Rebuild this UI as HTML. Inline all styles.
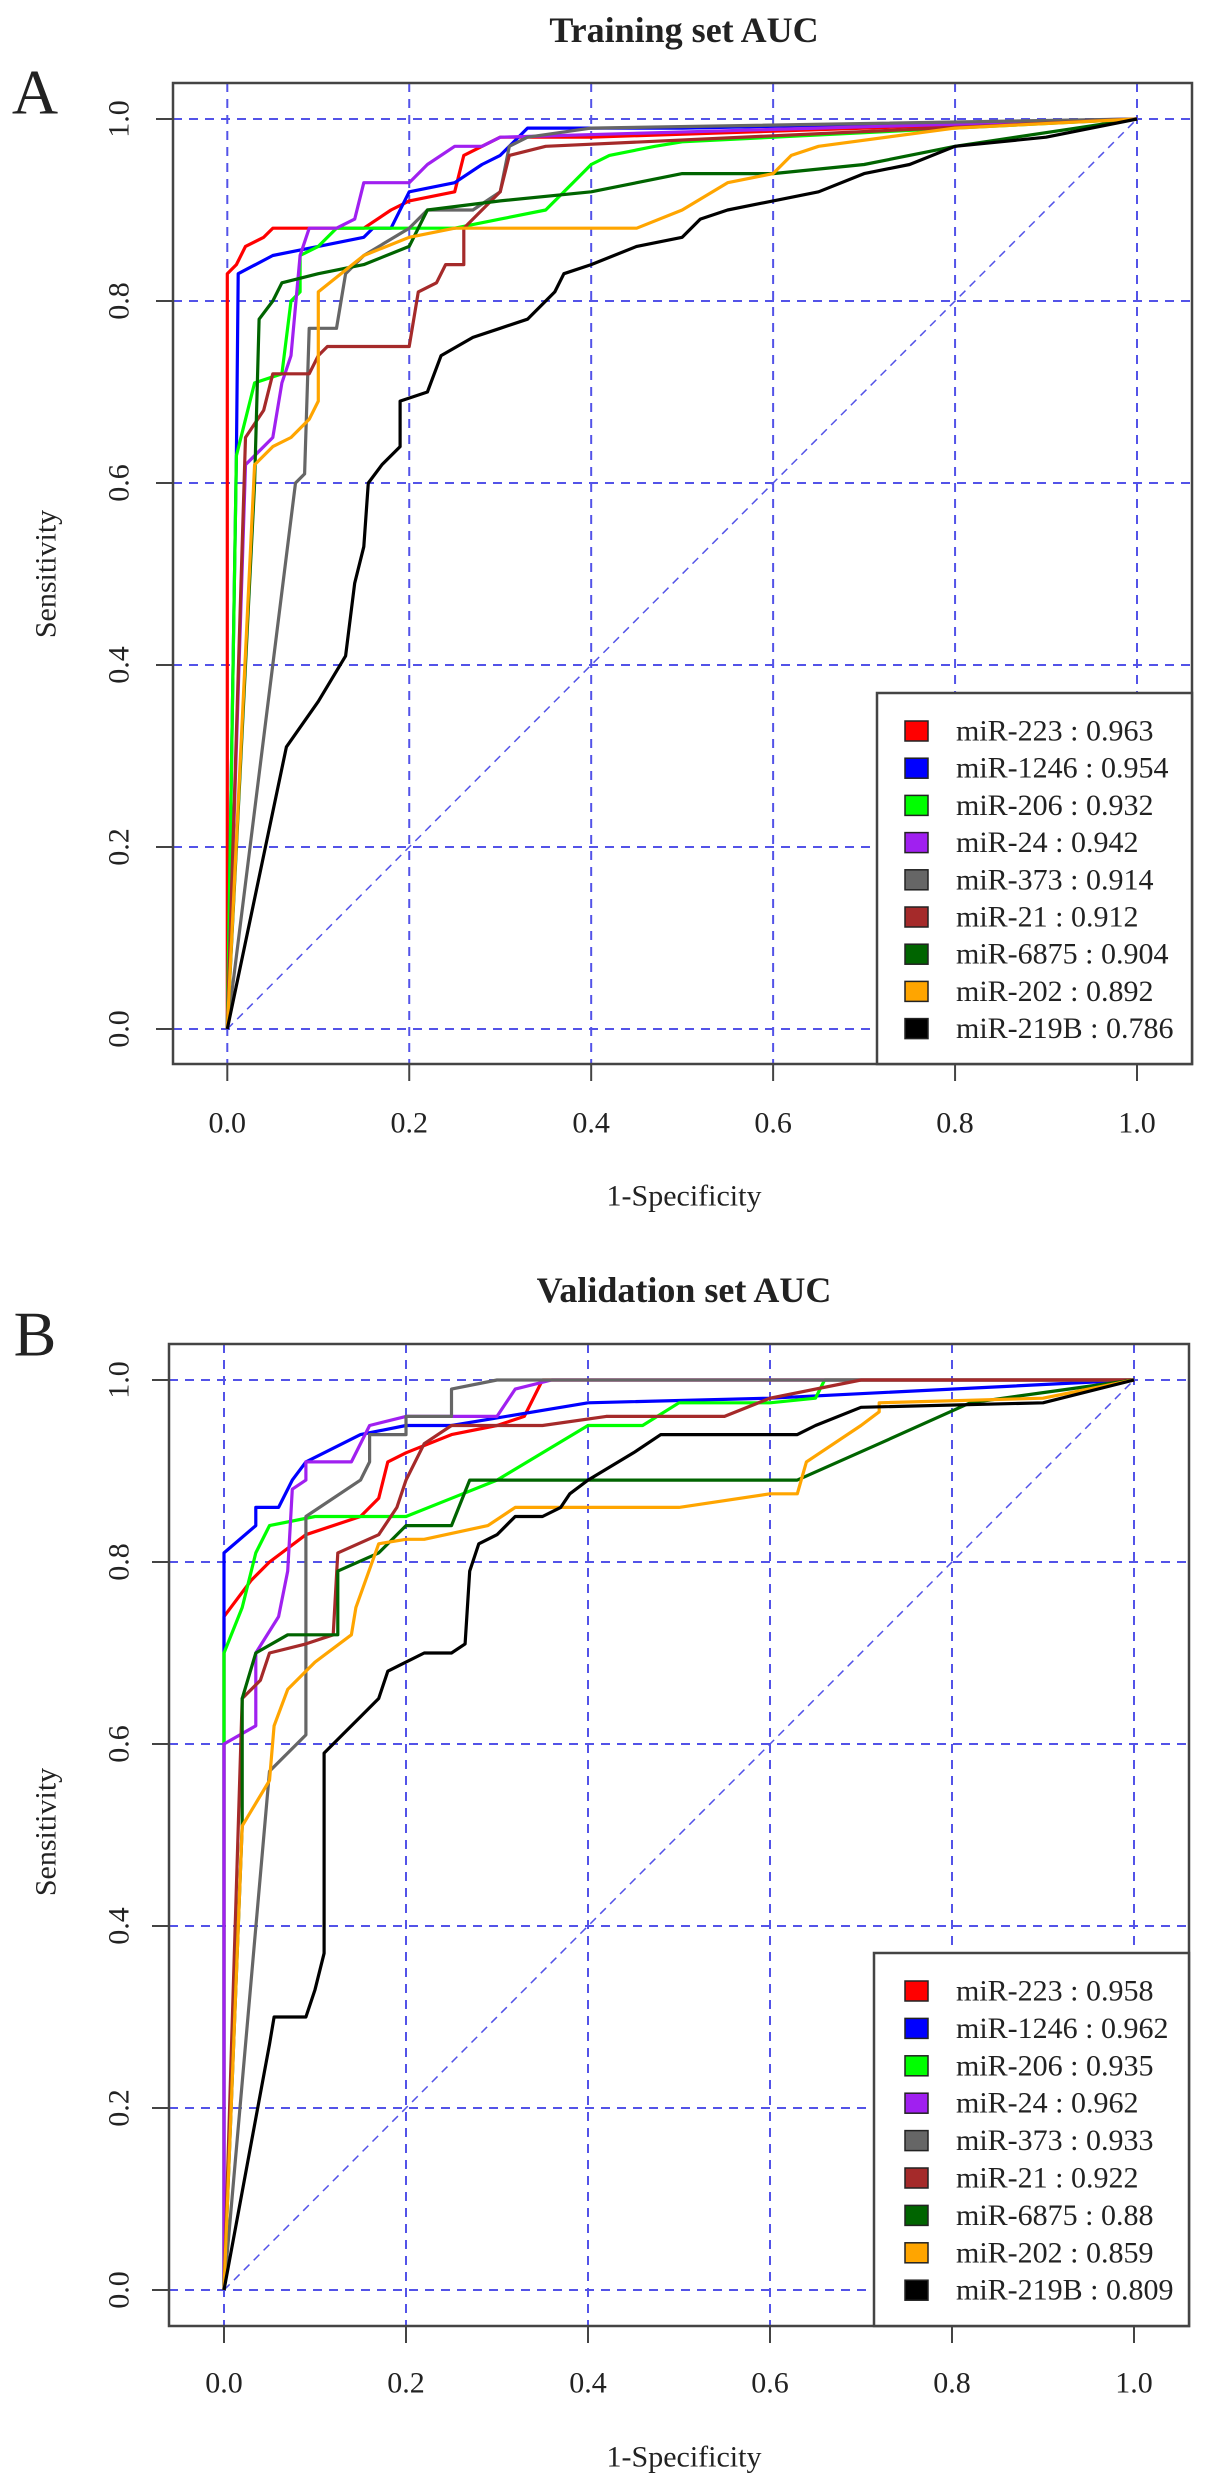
<!DOCTYPE html>
<html><head><meta charset="utf-8"><style>
body{margin:0;background:#fff}
svg{display:block}
text{font-family:"Liberation Serif",serif;fill:#222}
</style></head><body>
<svg id="chart" width="1205" height="2487" viewBox="0 0 1205 2487" xmlns="http://www.w3.org/2000/svg"></svg>
<script>
// ---- data ----
const seriesNames = ["miR-223","miR-1246","miR-206","miR-24","miR-373","miR-21","miR-6875","miR-202","miR-219B"];
const seriesColors = ["#ff0000","#0000ff","#00ff00","#a020f0","#666666","#a52a2a","#006400","#ffa500","#000000"];
const xTicks = [0,0.2,0.4,0.6,0.8,1.0];
const yTicks = [0,0.2,0.4,0.6,0.8,1.0];
const tickLabels = ["0.0","0.2","0.4","0.6","0.8","1.0"];
const aucTrain = ["0.963","0.954","0.932","0.942","0.914","0.912","0.904","0.892","0.786"];
const aucValid = ["0.958","0.962","0.935","0.962","0.933","0.922","0.88","0.859","0.809"];

const trainCurves = [
 [[0,0],[0,0.83],[0.01,0.84],[0.02,0.86],[0.04,0.87],[0.05,0.88],[0.15,0.88],[0.18,0.9],[0.2,0.91],[0.25,0.92],[0.26,0.96],[0.28,0.97],[0.3,0.98],[0.4,0.98],[1,1]],
 [[0,0],[0.01,0.63],[0.012,0.83],[0.05,0.85],[0.1,0.86],[0.15,0.87],[0.16,0.88],[0.18,0.88],[0.2,0.92],[0.25,0.93],[0.28,0.95],[0.3,0.96],[0.32,0.98],[0.33,0.99],[0.5,0.99],[1,1]],
 [[0,0],[0.01,0.63],[0.03,0.71],[0.06,0.72],[0.07,0.8],[0.08,0.81],[0.08,0.85],[0.1,0.86],[0.12,0.88],[0.25,0.88],[0.3,0.89],[0.35,0.9],[0.38,0.93],[0.4,0.95],[0.42,0.96],[0.47,0.97],[0.5,0.975],[1,1]],
 [[0,0],[0.02,0.62],[0.05,0.65],[0.06,0.71],[0.07,0.74],[0.08,0.85],[0.09,0.88],[0.12,0.88],[0.14,0.89],[0.15,0.93],[0.2,0.93],[0.22,0.95],[0.25,0.97],[0.28,0.97],[0.3,0.98],[1,1]],
 [[0,0],[0.075,0.6],[0.085,0.61],[0.09,0.77],[0.12,0.77],[0.13,0.83],[0.15,0.85],[0.2,0.88],[0.22,0.9],[0.27,0.9],[0.3,0.92],[0.31,0.97],[0.33,0.98],[0.4,0.99],[1,1]],
 [[0,0],[0.02,0.65],[0.04,0.68],[0.05,0.72],[0.09,0.72],[0.1,0.74],[0.11,0.75],[0.2,0.75],[0.21,0.81],[0.23,0.82],[0.24,0.84],[0.26,0.84],[0.26,0.88],[0.3,0.92],[0.31,0.96],[0.35,0.97],[1,1]],
 [[0,0],[0.03,0.6],[0.035,0.78],[0.05,0.8],[0.06,0.82],[0.1,0.83],[0.15,0.84],[0.2,0.86],[0.22,0.9],[0.3,0.91],[0.4,0.92],[0.45,0.93],[0.5,0.94],[0.6,0.94],[0.7,0.95],[0.8,0.97],[1,1]],
 [[0,0],[0.03,0.62],[0.05,0.64],[0.07,0.65],[0.09,0.67],[0.1,0.69],[0.1,0.81],[0.15,0.85],[0.2,0.87],[0.25,0.88],[0.45,0.88],[0.5,0.9],[0.55,0.93],[0.6,0.94],[0.62,0.96],[0.65,0.97],[0.8,0.99],[1,1]],
 [[0,0],[0.065,0.31],[0.1,0.36],[0.13,0.41],[0.14,0.49],[0.15,0.53],[0.155,0.6],[0.17,0.62],[0.19,0.64],[0.19,0.69],[0.22,0.7],[0.235,0.74],[0.27,0.76],[0.3,0.77],[0.33,0.78],[0.35,0.8],[0.36,0.81],[0.37,0.83],[0.4,0.84],[0.45,0.86],[0.5,0.87],[0.52,0.89],[0.55,0.9],[0.6,0.91],[0.65,0.92],[0.7,0.94],[0.75,0.95],[0.8,0.97],[0.9,0.98],[1,1]]
];
const validCurves = [
 [[0,0],[0,0.74],[0.03,0.78],[0.05,0.8],[0.09,0.83],[0.15,0.85],[0.17,0.87],[0.18,0.91],[0.2,0.92],[0.25,0.94],[0.3,0.95],[0.33,0.96],[0.35,1],[1,1]],
 [[0,0],[0,0.81],[0.035,0.84],[0.035,0.86],[0.06,0.86],[0.075,0.89],[0.09,0.91],[0.15,0.94],[0.2,0.95],[0.25,0.95],[0.4,0.975],[0.6,0.98],[1,1]],
 [[0,0],[0,0.6],[0,0.7],[0.02,0.75],[0.035,0.81],[0.05,0.84],[0.1,0.85],[0.2,0.85],[0.25,0.87],[0.3,0.89],[0.4,0.95],[0.46,0.95],[0.5,0.975],[0.6,0.975],[0.65,0.98],[0.66,1],[1,1]],
 [[0,0],[0,0.6],[0.035,0.62],[0.035,0.7],[0.06,0.74],[0.07,0.79],[0.075,0.88],[0.09,0.89],[0.09,0.91],[0.14,0.91],[0.16,0.95],[0.2,0.96],[0.3,0.96],[0.32,0.99],[0.36,1],[1,1]],
 [[0,0],[0.05,0.57],[0.09,0.61],[0.09,0.85],[0.15,0.89],[0.16,0.91],[0.16,0.94],[0.2,0.94],[0.2,0.96],[0.25,0.96],[0.25,0.99],[0.3,1],[1,1]],
 [[0,0],[0.02,0.65],[0.04,0.67],[0.05,0.7],[0.09,0.71],[0.12,0.72],[0.125,0.81],[0.17,0.83],[0.19,0.86],[0.2,0.89],[0.22,0.93],[0.25,0.95],[0.35,0.95],[0.42,0.96],[0.55,0.96],[0.6,0.98],[0.7,1],[1,1]],
 [[0,0],[0.02,0.51],[0.02,0.65],[0.035,0.7],[0.07,0.72],[0.125,0.72],[0.125,0.79],[0.17,0.81],[0.2,0.84],[0.25,0.84],[0.27,0.89],[0.63,0.89],[0.72,0.93],[0.82,0.975],[1,1]],
 [[0,0],[0.02,0.51],[0.05,0.56],[0.055,0.62],[0.07,0.66],[0.1,0.69],[0.14,0.72],[0.145,0.75],[0.17,0.82],[0.2,0.825],[0.22,0.825],[0.29,0.84],[0.32,0.86],[0.5,0.86],[0.6,0.875],[0.63,0.875],[0.64,0.91],[0.7,0.95],[0.72,0.965],[0.72,0.975],[0.9,0.98],[1,1]],
 [[0,0],[0.05,0.27],[0.055,0.3],[0.09,0.3],[0.1,0.33],[0.11,0.37],[0.11,0.59],[0.13,0.61],[0.15,0.63],[0.17,0.65],[0.18,0.68],[0.2,0.69],[0.22,0.7],[0.25,0.7],[0.265,0.71],[0.27,0.79],[0.28,0.82],[0.3,0.83],[0.32,0.85],[0.35,0.85],[0.37,0.86],[0.38,0.875],[0.4,0.89],[0.45,0.92],[0.48,0.94],[0.63,0.94],[0.65,0.95],[0.7,0.97],[0.9,0.975],[1,1]]
];

const NS = "http://www.w3.org/2000/svg";
const svg = document.getElementById('chart');
function mk(tag, attrs, parent, txt){
  const e = document.createElementNS(NS, tag);
  for (const k in attrs) e.setAttribute(k, attrs[k]);
  if (txt !== undefined) e.textContent = txt;
  (parent||svg).appendChild(e);
  return e;
}

function drawPanel(cfg, curves, aucs){
  const g = mk('g', {});
  
  
  const sx = v => cfg.x0 + v * (cfg.x1 - cfg.x0);
  const sy = v => cfg.y0 + v * (cfg.y1 - cfg.y0);

  const title = mk('text', {x: 684, y: cfg.titleY, 'text-anchor':'middle', 'dominant-baseline':'central', 'font-size':36, 'font-weight':'bold'}, g, cfg.title);
  
  
  const letter = mk('text', {x: 35, y: cfg.letterY, 'text-anchor':'middle', 'dominant-baseline':'central', 'font-size':64}, g, cfg.letter);
  
  

  // grid
  const grid = mk('g', {stroke:'#5353e8', 'stroke-width':2, 'stroke-dasharray':'9 7', fill:'none'}, g);
  
  
  xTicks.forEach(t => {
    const l = mk('line', {x1: sx(t), x2: sx(t), y1: cfg.bt, y2: cfg.bb}, grid);
    
    
  });
  yTicks.forEach(t => {
    const l = mk('line', {x1: cfg.bl, x2: cfg.br, y1: sy(t), y2: sy(t)}, grid);
    
    
  });
  const diag = mk('line', {x1: sx(0), y1: sy(0), x2: sx(1), y2: sy(1), stroke:'#5353e8', 'stroke-width':1.5, 'stroke-dasharray':'8 6'}, g);
  
  

  // curves
  curves.forEach((pts, i) => {
    const p = mk('polyline', {points: pts.map(q => sx(q[0]).toFixed(1) + ',' + sy(q[1]).toFixed(1)).join(' '), fill:'none', stroke: seriesColors[i], 'stroke-width':3.2, 'stroke-linejoin':'round'}, g);
    
    
  });

  // box
  const box = mk('rect', {x: cfg.bl, y: cfg.bt, width: cfg.br - cfg.bl, height: cfg.bb - cfg.bt, fill:'none', stroke:'#444', 'stroke-width':2.5}, g);
  
  

  // ticks
  xTicks.forEach((t, i) => {
    mk('line', {x1: sx(t), x2: sx(t), y1: cfg.bb, y2: cfg.bb + 17, stroke:'#444', 'stroke-width':2}, g);
    const tl = mk('text', {x: sx(t), y: cfg.xLabY, 'text-anchor':'middle', 'dominant-baseline':'central', 'font-size':30}, g, tickLabels[i]);
    
    
  });
  yTicks.forEach((t, i) => {
    mk('line', {x1: cfg.bl - 17, x2: cfg.bl, y1: sy(t), y2: sy(t), stroke:'#444', 'stroke-width':2}, g);
    const tl = mk('text', {x: 0, y: 0, transform: 'translate(119,' + sy(t) + ') rotate(-90)', 'text-anchor':'middle', 'dominant-baseline':'central', 'font-size':30}, g, tickLabels[i]);
    
    
  });
  const xt = mk('text', {x: 684, y: cfg.xTitleY, 'text-anchor':'middle', 'dominant-baseline':'central', 'font-size':30}, g, '1-Specificity');
  
  
  const yt = mk('text', {x: 0, y: 0, transform: 'translate(46,' + cfg.yTitleY + ') rotate(-90)', 'text-anchor':'middle', 'dominant-baseline':'central', 'font-size':30}, g, 'Sensitivity');
  
  

  // legend
  const lg = mk('g', {}, g);
  
  
  mk('rect', {x: cfg.lgL, y: cfg.lgT, width: cfg.br - cfg.lgL, height: cfg.bb - cfg.lgT, fill:'#fff', stroke:'#444', 'stroke-width':2.5}, lg);
  seriesNames.forEach((n, i) => {
    const cy = cfg.lgY0 + i * cfg.lgStep;
    const e = mk('g', {}, lg);
    
    
    mk('rect', {x: 905, y: cy - 10, width: 23, height: 20, fill: seriesColors[i], stroke:'#222', 'stroke-width':1.5}, e);
    mk('text', {x: 956, y: cy, 'dominant-baseline':'central', 'font-size':30}, e, n + ' : ' + aucs[i]);
  });
}

drawPanel({id:'training', title:'Training set AUC', letter:'A', titleY:30, letterY:92,
  x0:227.3, x1:1137, y0:1029, y1:119, bl:173, br:1192, bt:83, bb:1064,
  xLabY:1123, xTitleY:1196, yTitleY:574, lgL:877, lgT:693, lgY0:731, lgStep:37.2}, trainCurves, aucTrain);
drawPanel({id:'validation', title:'Validation set AUC', letter:'B', titleY:1290, letterY:1334,
  x0:224, x1:1134, y0:2290, y1:1380, bl:169, br:1189, bt:1344, bb:2326,
  xLabY:2383, xTitleY:2457, yTitleY:1832, lgL:874, lgT:1953, lgY0:1991, lgStep:37.4}, validCurves, aucValid);
</script>
</body></html>
